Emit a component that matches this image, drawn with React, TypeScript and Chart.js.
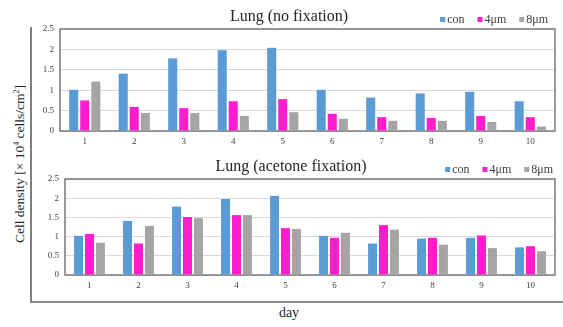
import React, { useEffect, useRef } from "react";
import { Chart, registerables } from "chart.js";

Chart.register(...registerables);

const days = ["1", "2", "3", "4", "5", "6", "7", "8", "9", "10"];
const seriesNames = ["con", "4μm", "8μm"];
const seriesColors = ["#5B9BD5", "#FF1DCE", "#A5A5A5"];
const yTicks = [0, 0.5, 1, 1.5, 2, 2.5];
const yTickLabels = ["0", "0.5", "1", "1.5", "2", "2.5"];

const noFixCon = [1.01, 1.405, 1.78, 1.98, 2.04, 1.01, 0.82, 0.92, 0.96, 0.73];
const noFix4 = [0.75, 0.59, 0.56, 0.73, 0.78, 0.42, 0.34, 0.32, 0.37, 0.34];
const noFix8 = [1.21, 0.44, 0.44, 0.37, 0.46, 0.3, 0.25, 0.25, 0.22, 0.11];

const aceCon = [1.02, 1.41, 1.78, 1.98, 2.06, 1.02, 0.82, 0.95, 0.97, 0.72];
const ace4 = [1.07, 0.82, 1.51, 1.56, 1.22, 0.97, 1.3, 0.97, 1.03, 0.75];
const ace8 = [0.84, 1.28, 1.48, 1.56, 1.2, 1.1, 1.18, 0.79, 0.7, 0.62];

const SERIF = "'Liberation Serif', 'Times New Roman', serif";

const framePlugin = {
  id: "plotFrame",
  beforeDatasetsDraw(chart: any) {
    const { ctx, chartArea } = chart;
    ctx.save();
    ctx.strokeStyle = "#7a7a7a";
    ctx.lineWidth = 1.5;
    ctx.strokeRect(chartArea.left, chartArea.top, chartArea.right - chartArea.left, chartArea.bottom - chartArea.top);
    ctx.restore();
  },
};

const headerPlugin = {
  id: "header",
  afterDraw(chart: any, _args: any, opts: any) {
    const ctx = chart.ctx;
    ctx.save();
    ctx.font = `16px ${SERIF}`;
    ctx.fillStyle = "#262626";
    ctx.textAlign = "center";
    ctx.textBaseline = "alphabetic";
    ctx.fillText(opts.text, opts.titleX, opts.titleY);

    ctx.font = `12px ${SERIF}`;
    const items = chart.data.datasets.map((d: any) => ({
      label: d.label,
      color: d.backgroundColor,
      w: ctx.measureText(d.label).width,
    }));
    const box = 5;
    const gapBT = 2;
    const gapItem = 13;
    const total = items.reduce((s: number, it: any) => s + box + gapBT + it.w, 0) + gapItem * (items.length - 1);
    let x = opts.legendRight - total;
    ctx.textAlign = "left";
    items.forEach((it: any) => {
      ctx.fillStyle = it.color;
      ctx.fillRect(x, opts.legendY - 6, box, box);
      x += box + gapBT;
      ctx.fillStyle = "#404040";
      ctx.fillText(it.label, x, opts.legendY);
      x += it.w + gapItem;
    });
    ctx.restore();
  },
};

type PanelProps = {
  title: string;
  series: number[][];
  left: number;
  top: number;
  width: number;
  height: number;
  yAxisWidth: number;
  xAxisHeight: number;
  padTop: number;
  padRight: number;
  titleX: number;
  titleY: number;
  legendRight: number;
  legendY: number;
};

function Panel(p: PanelProps) {
  const ref = useRef<HTMLCanvasElement>(null);
  useEffect(() => {
    if (!ref.current) return;
    const tickFont = { family: SERIF, size: 9 };
    const chart = new Chart(ref.current, {
      type: "bar",
      data: {
        labels: days,
        datasets: p.series.map((vals, i) => ({
          label: seriesNames[i],
          data: vals,
          backgroundColor: seriesColors[i],
          borderWidth: 0,
          categoryPercentage: 0.67,
          barPercentage: 0.82,
        })),
      },
      options: {
        responsive: false,
        animation: false,
        devicePixelRatio: 1,
        layout: { padding: { top: p.padTop, right: p.padRight, left: 0, bottom: 0 } },
        plugins: {
          legend: { display: false },
          title: { display: false },
          tooltip: { enabled: false },
          header: {
            text: p.title,
            titleX: p.titleX,
            titleY: p.titleY,
            legendRight: p.legendRight,
            legendY: p.legendY,
          },
        } as any,
        scales: {
          x: {
            grid: { display: false, drawTicks: false },
            border: { display: false },
            ticks: { font: tickFont, color: "#404040", padding: 5, maxRotation: 0 },
            afterFit: (s: any) => {
              s.height = p.xAxisHeight;
            },
          },
          y: {
            min: 0,
            max: 2.5,
            afterBuildTicks: (s: any) => {
              s.ticks = yTicks.map((v) => ({ value: v }));
            },
            ticks: {
              font: tickFont,
              color: "#404040",
              padding: 6,
              callback: (v: any) => {
                const i = yTicks.indexOf(Number(v));
                return i >= 0 ? yTickLabels[i] : String(v);
              },
            },
            grid: { color: "#d9d9d9", drawTicks: false, lineWidth: 1 },
            border: { display: false },
            afterFit: (s: any) => {
              s.width = p.yAxisWidth;
            },
          },
        },
      },
      plugins: [framePlugin, headerPlugin],
    } as any);
    return () => chart.destroy();
  }, []);
  return (
    <canvas
      ref={ref}
      width={p.width}
      height={p.height}
      style={{ position: "absolute", left: p.left, top: p.top, width: p.width, height: p.height }}
    />
  );
}

export default function App() {
  return (
    <div
      style={{
        position: "fixed",
        left: 0,
        top: 0,
        width: 563,
        height: 327,
        background: "#ffffff",
        overflow: "hidden",
        fontFamily: SERIF,
      }}
    >
      <div
        style={{
          position: "absolute",
          left: 30,
          top: 27,
          width: 533,
          height: 274,
          borderLeft: "2px solid #7f7f7f",
          borderBottom: "2px solid #8a8a8a",
        }}
      />
      <Panel
        title="Lung (no fixation)"
        series={[noFixCon, noFix4, noFix8]}
        left={32}
        top={0}
        width={531}
        height={150}
        yAxisWidth={28}
        xAxisHeight={19}
        padTop={29}
        padRight={8}
        titleX={257}
        titleY={21}
        legendRight={516}
        legendY={23}
      />
      <Panel
        title="Lung (acetone fixation)"
        series={[aceCon, ace4, ace8]}
        left={32}
        top={150}
        width={531}
        height={150}
        yAxisWidth={33}
        xAxisHeight={25}
        padTop={29}
        padRight={8}
        titleX={259}
        titleY={21}
        legendRight={521}
        legendY={23}
      />
      <div
        style={{
          position: "absolute",
          left: 18,
          top: 164,
          transform: "translate(-50%, -50%) rotate(-90deg)",
          whiteSpace: "nowrap",
          fontSize: 13.5,
          color: "#262626",
          lineHeight: "16px",
        }}
      >
        Cell density [× 10<sup style={{ fontSize: 8, verticalAlign: "5px" }}>4</sup> cells/cm
        <sup style={{ fontSize: 8, verticalAlign: "5px" }}>2</sup>]
      </div>
      <div
        style={{
          position: "absolute",
          left: 289,
          top: 313,
          transform: "translate(-50%, -50%)",
          whiteSpace: "nowrap",
          fontSize: 14,
          color: "#262626",
          lineHeight: "16px",
        }}
      >
        day
      </div>
    </div>
  );
}
